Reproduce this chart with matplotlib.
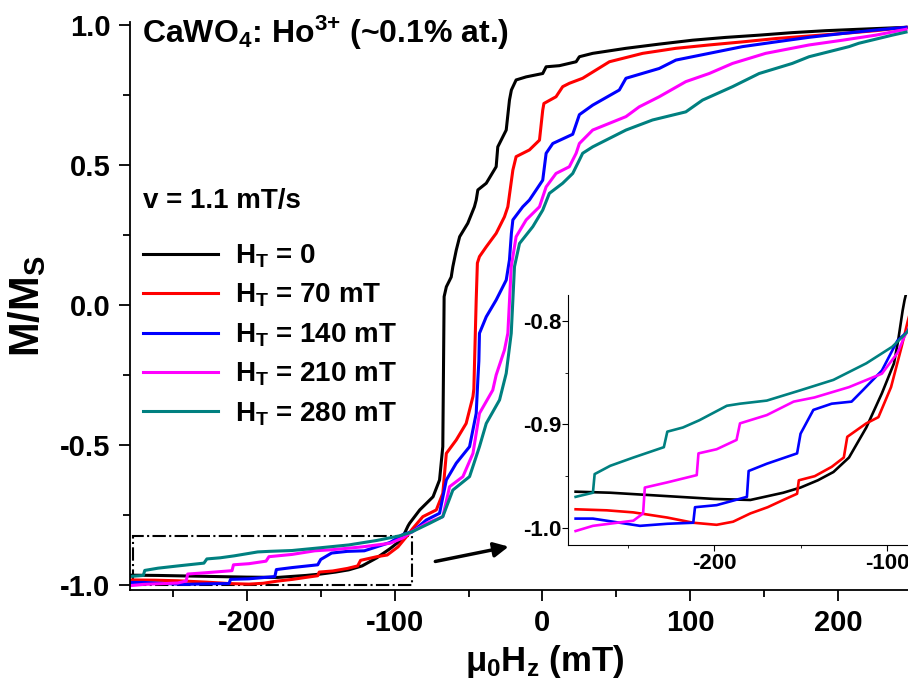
import matplotlib
matplotlib.use("Agg")
import matplotlib.pyplot as plt
from matplotlib.patches import Rectangle
from matplotlib.ticker import MultipleLocator, FormatStrFormatter

plt.rcParams["font.family"] = ["Liberation Sans", "DejaVu Sans"]
plt.rcParams["font.weight"] = "bold"
plt.rcParams["axes.labelweight"] = "bold"
plt.rcParams["mathtext.fontset"] = "custom"
plt.rcParams["mathtext.rm"] = "Liberation Sans:bold"
plt.rcParams["mathtext.it"] = "Liberation Sans:bold"
plt.rcParams["mathtext.bf"] = "Liberation Sans:bold"
plt.rcParams["axes.unicode_minus"] = False

# sweep data (field in mT, M/Ms)
h0_x = [-280, -260, -240, -220, -200, -179, -160, -150, -140, -131, -122, -112, -103, -96, -93.6,
        -91, -89.9, -83, -74, -69.6, -67.4, -67, -66.5, -65, -61.7, -60.6, -58.3, -56, -50.5,
        -46, -44.8, -43.7, -38, -31.3, -30.2, -24.5, -22.3, -21, -17.8, -11, 0.2, 2.5, 11.5,
        22.8, 25, 34, 56.5, 79, 101.6, 124, 146.6, 169, 191.7, 214, 246]
h0_y = [-0.965, -0.966, -0.968, -0.970, -0.972, -0.973, -0.966, -0.961, -0.954, -0.946, -0.932,
        -0.903, -0.870, -0.841, -0.819, -0.790, -0.780, -0.732, -0.685, -0.625, -0.506, -0.270,
        0.030, 0.065, 0.100, 0.137, 0.196, 0.244, 0.292, 0.351, 0.375, 0.411, 0.435, 0.494,
        0.565, 0.625, 0.732, 0.768, 0.804, 0.815, 0.827, 0.851, 0.855, 0.869, 0.887, 0.899,
        0.917, 0.932, 0.946, 0.956, 0.964, 0.973, 0.980, 0.985, 0.992]

h70_x = [-280, -262, -246.6, -227, -212, -198.5, -189, -179, -169, -160, -152, -151, -141.8,
         -132, -125, -123, -112, -105, -97.7, -91.6, -88, -80.9, -71.8, -67.4, -65, -58.3,
         -51.6, -47, -46.4, -44.8, -44, -42.6, -38, -31.3, -25.7, -23.4, -20, -17.8, -8.8, -2,
         0.2, 1, 9.2, 13.7, 18.2, 27.2, 45.3, 67.8, 90.3, 112.8, 135.3, 158, 180.4, 203, 225.5,
         246]
h70_y = [-0.982, -0.983, -0.985, -0.990, -0.995, -0.997, -0.994, -0.986, -0.980, -0.973, -0.967,
         -0.954, -0.950, -0.941, -0.932, -0.912, -0.899, -0.893, -0.864, -0.825, -0.800, -0.756,
         -0.732, -0.673, -0.530, -0.482, -0.423, -0.327, -0.300, 0.018, 0.150, 0.173, 0.208,
         0.256, 0.315, 0.351, 0.482, 0.530, 0.554, 0.589, 0.696, 0.720, 0.744, 0.780, 0.792,
         0.810, 0.869, 0.899, 0.917, 0.929, 0.940, 0.952, 0.961, 0.970, 0.980, 0.992]

h140_x = [-280, -270, -242.8, -227, -212, -211, -198.5, -181, -180, -169.5, -152, -150, -142.6,
          -132, -120.5, -114, -103, -94, -88, -78.6, -69.6, -65, -58.3, -49.3, -44.8, -43.7, -43,
          -42.6, -38, -31.3, -24.5, -22.3, -21, -20, -13.3, -8.8, 0.2, 2.5, 7, 20.5, 25, 34, 52,
          56.5, 79, 90.3, 112.8, 135.3, 158, 180, 203, 225, 246]
h140_y = [-0.991, -0.991, -0.998, -0.996, -0.995, -0.980, -0.978, -0.970, -0.945, -0.938, -0.928,
          -0.909, -0.886, -0.880, -0.878, -0.867, -0.848, -0.819, -0.810, -0.768, -0.744, -0.625,
          -0.565, -0.506, -0.387, -0.268, -0.200, -0.101, -0.042, 0.018, 0.089, 0.161, 0.256,
          0.304, 0.351, 0.375, 0.446, 0.542, 0.577, 0.610, 0.680, 0.714, 0.768, 0.810, 0.845,
          0.875, 0.899, 0.923, 0.940, 0.956, 0.970, 0.982, 0.992]

h210_x = [-280, -270, -246.6, -241, -240, -227, -210, -209, -198.5, -187, -185, -169.5, -154,
          -142, -134, -122, -103, -94, -89.9, -78.6, -67.4, -62.8, -53.8, -47, -42.6, -33.6,
          -31.3, -25.7, -23.4, -21.1, -17.8, -11, -2, 2.5, 9.2, 18.2, 22.8, 25, 34, 56.5, 65.5,
          79, 97, 112.8, 128.6, 151, 180.4, 203, 225.5, 246]
h210_y = [-1.003, -0.998, -0.993, -0.986, -0.961, -0.956, -0.949, -0.928, -0.924, -0.915, -0.899,
          -0.891, -0.878, -0.874, -0.870, -0.864, -0.851, -0.831, -0.815, -0.780, -0.756, -0.649,
          -0.613, -0.530, -0.387, -0.304, -0.250, -0.161, -0.101, 0.137, 0.244, 0.304, 0.351,
          0.422, 0.470, 0.494, 0.542, 0.577, 0.625, 0.673, 0.708, 0.744, 0.798, 0.827, 0.863,
          0.899, 0.929, 0.946, 0.964, 0.985]

h280_x = [-280, -270, -269, -260, -246.6, -229, -227, -218, -208.5, -192.6, -185, -169.5, -150,
          -131, -112, -97, -89, -76.4, -67.4, -60.6, -49.3, -42.6, -38, -29, -24.5, -21.1, -18.9,
          -15.5, -6.5, 0.2, 4.7, 13.7, 20.5, 25, 27.2, 34, 56.5, 74.5, 97, 108.3, 128.6, 146.6,
          169, 180.4, 207.4, 214, 236.7, 246]
h280_y = [-0.970, -0.966, -0.948, -0.940, -0.932, -0.922, -0.907, -0.903, -0.896, -0.882, -0.880,
          -0.877, -0.867, -0.857, -0.841, -0.825, -0.812, -0.780, -0.756, -0.661, -0.613, -0.506,
          -0.423, -0.339, -0.244, -0.101, 0.137, 0.220, 0.280, 0.339, 0.399, 0.435, 0.470, 0.518,
          0.542, 0.565, 0.625, 0.661, 0.690, 0.732, 0.780, 0.827, 0.863, 0.887, 0.923, 0.935,
          0.964, 0.975]

labels = [r"H$_\mathrm{T}$ = 0", r"H$_\mathrm{T}$ = 70 mT", r"H$_\mathrm{T}$ = 140 mT",
          r"H$_\mathrm{T}$ = 210 mT", r"H$_\mathrm{T}$ = 280 mT"]
colors = ["black", "#ff0000", "#0000ff", "#ff00ff", "#008080"]
xs = [h0_x, h70_x, h140_x, h210_x, h280_x]
ys = [h0_y, h70_y, h140_y, h210_y, h280_y]

fig = plt.figure(figsize=(9.08, 6.86), dpi=100)
ax = fig.add_axes([130 / 908, 96 / 686, 778 / 908, 568 / 686])

for x, y, c, lab in zip(xs, ys, colors, labels):
    ax.plot(x, y, color=c, lw=2.2, label=lab)

ax.set_xlim(-279, 247.3)
ax.set_ylim(-1.018, 1.011)
ax.spines["top"].set_visible(False)
ax.spines["right"].set_visible(False)
for s in ["left", "bottom"]:
    ax.spines[s].set_linewidth(1.3)
ax.xaxis.set_major_locator(MultipleLocator(100))
ax.xaxis.set_minor_locator(MultipleLocator(50))
ax.yaxis.set_major_locator(MultipleLocator(0.5))
ax.yaxis.set_minor_locator(MultipleLocator(0.25))
ax.yaxis.set_major_formatter(FormatStrFormatter("%.1f"))
ax.tick_params(which="major", length=8, width=1.3, labelsize=21, pad=6)
ax.tick_params(which="minor", length=5, width=1.3)

ax.set_xlabel(r"$\mu_\mathrm{0}$H$_\mathrm{z}$ (mT)", fontsize=25)
ax.xaxis.set_label_coords(0.533, -0.093)
ax.set_ylabel(r"M/M$_\mathrm{S}$", fontsize=30)
ax.yaxis.set_label_coords(-0.105, 0.5)

ax.text(0.0154, 0.963, r"CaWO$_\mathrm{4}$: Ho$^{3{+}}$ (~0.1% at.)",
        transform=ax.transAxes, fontsize=23, va="baseline")
ax.text(0.0167, 0.672, "v = 1.1 mT/s", transform=ax.transAxes, fontsize=20, va="baseline")

ax.legend(loc="upper left", bbox_to_anchor=(0.0167, 0.612), frameon=False, fontsize=20,
          handlelength=2.7, handletextpad=0.6, labelspacing=0.43, borderaxespad=0,
          borderpad=0)

# zoom box and arrow
ax.add_patch(Rectangle((-277, -1.0), 189, 0.175, fill=False, ls="-.", lw=1.5, color="black"))
ax.annotate("", xy=(-21, -0.861), xytext=(-74.3, -0.918),
            arrowprops=dict(arrowstyle="-|>", color="black", lw=2.5, mutation_scale=22))

# inset
axi = fig.add_axes([568 / 908, 141 / 686, 340 / 908, 250 / 686])
for x, y, c in zip(xs, ys, colors):
    axi.plot(x, y, color=c, lw=1.9)
axi.set_xlim(-284.4, -87.9)
axi.set_ylim(-1.0165, -0.775)
axi.spines["top"].set_visible(False)
axi.spines["right"].set_visible(False)
axi.xaxis.set_major_locator(MultipleLocator(100))
axi.xaxis.set_minor_locator(MultipleLocator(50))
axi.yaxis.set_major_locator(MultipleLocator(0.1))
axi.yaxis.set_minor_locator(MultipleLocator(0.05))
axi.yaxis.set_major_formatter(FormatStrFormatter("%.1f"))
axi.tick_params(which="major", length=4, labelsize=16)
axi.tick_params(which="minor", length=2.5)
axi.tick_params(axis="x", which="major", pad=2)
axi.tick_params(axis="y", which="major", pad=1)

fig.savefig("out.png", dpi=100)
